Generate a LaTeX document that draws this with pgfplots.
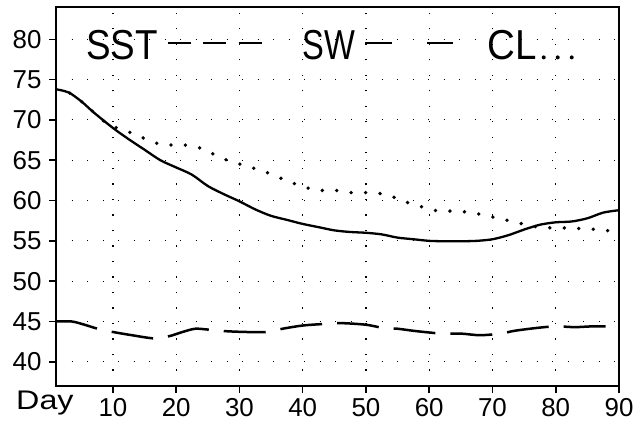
\documentclass[border=0pt]{standalone}
\usepackage{fontspec}
\setmainfont{Liberation Sans}
\usepackage{pgfplots}
\pgfplotsset{compat=1.18}

\begin{document}
\begin{tikzpicture}
\begin{axis}[
    scale only axis,
    width=563bp, height=379bp,
    xmin=1, xmax=90, ymin=37, ymax=84,
    xtick={10,20,...,90},
    ytick={40,45,...,80},
    tick pos=left, tick align=outside,
    major tick length=7bp,
    tick style={black, line width=1.5bp},
    axis line style={black, line width=1.8bp},
    grid=major,
    grid style={black, line width=1.2bp, dash pattern=on 1.2bp off 14.3bp},
    ticklabel style={font=\fontsize{26}{26}\selectfont},
    yticklabel style={xshift=-4bp},
    xticklabel style={yshift=-2bp},
    /pgf/number format/assume math mode=true,
]

% SST
\addplot[black, line width=2.3bp, smooth] coordinates {
    (1,73.8) (3,73.4) (5,72.3) (7,70.9) (10,69.0) (12.5,67.6) (15,66.3)
    (17.5,65.0) (20,64.1) (22.5,63.2) (25,61.8) (27.5,60.8) (30,59.9)
    (32.5,58.9) (35,58.1) (37.5,57.6) (40,57.1) (42.5,56.7) (45,56.3)
    (47.5,56.1) (50,56.0) (52.5,55.8) (55,55.4) (57.5,55.2) (60,55.0)
    (62.5,54.95) (65,54.95) (67.5,55.0) (70,55.2) (72.5,55.7) (75,56.4)
    (77.5,57.0) (80,57.3) (82.5,57.4) (85,57.8) (87.5,58.5) (90,58.8)
};

% SW
\addplot[black, line width=2.5bp, dash pattern=on 42bp off 15bp, smooth] coordinates {
    (1,45.0) (3.5,45.0) (5.5,44.6) (7.6,44.1) (10,43.7) (13,43.3) (16.6,42.9)
    (19,43.2) (21,43.7) (23,44.1) (25,44.0) (27.8,43.8) (31,43.7) (34.4,43.7)
    (36.8,44.1) (40,44.5) (43.5,44.7) (46,44.8) (50,44.6) (52.7,44.2) (55,44.1)
    (58,43.8) (62,43.5) (65,43.5) (68,43.3) (71.3,43.5) (73.5,43.85) (77,44.2)
    (80,44.4) (83,44.3) (86,44.4) (90,44.4)
};

% CL
\addplot[black, line width=3.8bp, line cap=round, dash pattern=on 0bp off 14.5bp, smooth] coordinates {
    (1,73.8) (3,73.4) (5,72.3) (7,70.9) (9,69.6) (11,68.9) (13.6,68.2)
    (15.8,67.4) (18,66.9) (20,66.9) (22.5,66.8) (24.8,66.2) (27,65.3)
    (29,64.8) (31.3,64.2) (33.6,63.7) (35.8,63.0) (38,62.3) (40,61.75)
    (42.3,61.25) (44.8,61.3) (47.2,61.0) (49.5,61.0) (52,60.9) (54.1,60.5)
    (56.4,59.8) (58.5,59.3) (60.6,58.8) (63.1,58.7) (65.6,58.6) (68,58.3)
    (70.3,57.9) (72.6,57.5) (74.8,57.1) (77.3,56.7) (79.8,56.6) (82,56.6)
    (84.3,56.5) (86.6,56.4) (88.9,56.2) (90,56.1)
};

% legend, written into the plot
\node[anchor=base west, inner sep=0, xscale=0.88, font=\fontsize{42}{42}\selectfont]
    at (axis cs:5.75,77.45) {SST};
\draw[black, line width=2bp, dash pattern=on 23bp off 12.5bp]
    (axis cs:18.66,79.57) -- (axis cs:33.7,79.57);
\node[anchor=base west, inner sep=0, xscale=0.78, font=\fontsize{42}{42}\selectfont]
    at (axis cs:39.9,77.45) {SW};
\draw[black, line width=2bp, dash pattern=on 27bp off 35bp]
    (axis cs:49.84,79.57) -- (axis cs:63.7,79.57);
\node[anchor=base west, inner sep=0, xscale=0.92, font=\fontsize{42}{42}\selectfont]
    at (axis cs:69.2,77.45) {CL};
\draw[black, line width=4bp, line cap=round, dash pattern=on 0bp off 14bp]
    (axis cs:78.1,77.75) -- (axis cs:82.7,77.75);
\end{axis}
\node[anchor=base west, inner sep=0, xscale=1.2, font=\fontsize{27}{27}\selectfont]
    at ([xshift=-40bp, yshift=-23bp]current axis.south west) {Day};
\pgfresetboundingbox
\useasboundingbox ([xshift=-56bp, yshift=-44bp]current axis.south west)
    rectangle ([xshift=15bp, yshift=7bp]current axis.north east);
\end{tikzpicture}
\end{document}
